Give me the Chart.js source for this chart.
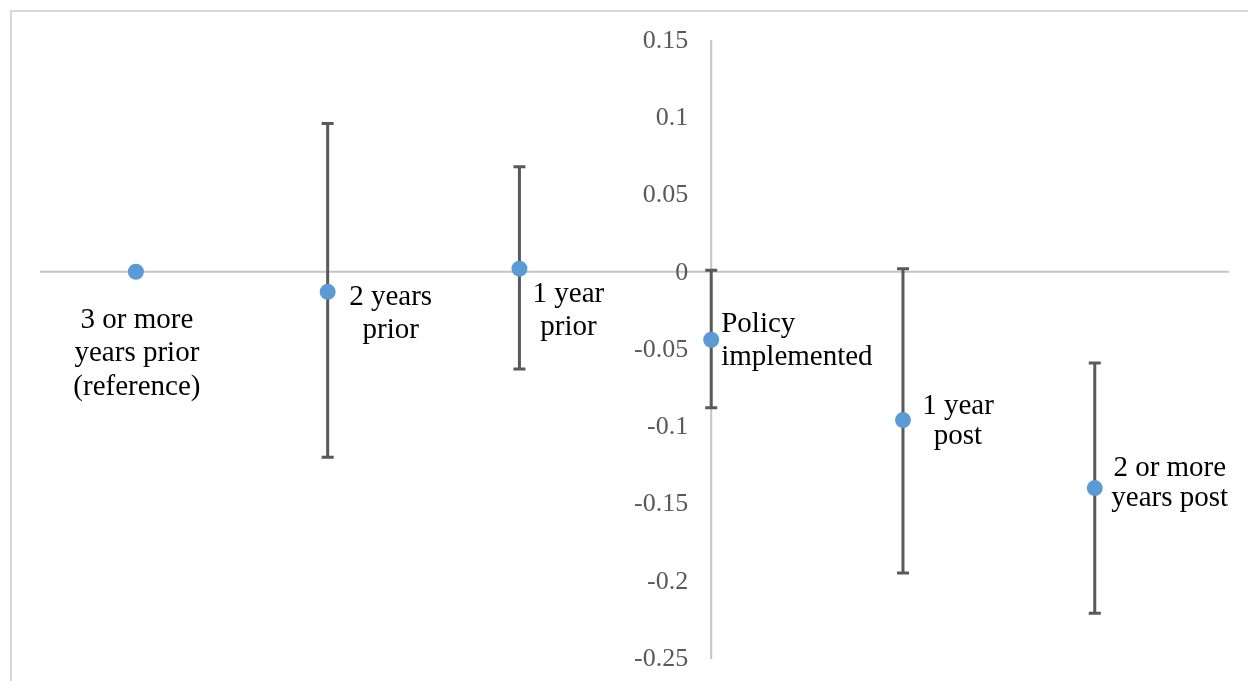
<!DOCTYPE html>
<html>
<head>
<meta charset="utf-8">
<script src="https://cdn.jsdelivr.net/npm/chart.js@4/dist/chart.umd.min.js"></script>
<style>
  html, body { margin: 0; padding: 0; background: #fff; overflow: hidden; }
  #wrap { position: relative; width: 1248px; height: 681px; }
</style>
</head>
<body>
<div id="wrap"><canvas id="chart"></canvas></div>
<script>
// data
const categories = [
    ['3 or more', 'years prior', '(reference)'],
    ['2 years', 'prior'],
    ['1 year', 'prior'],
    ['Policy', 'implemented'],
    ['1 year', 'post'],
    ['2 or more', 'years post']
];
const periods = [-3, -2, -1, 0, 1, 2];
const estimates = [0, -0.013, 0.002, -0.044, -0.096, -0.140];
const lowerCI = [null, -0.120, -0.063, -0.088, -0.195, -0.221];
const upperCI = [null, 0.096, 0.068, 0.001, 0.002, -0.059];
const yTicks = [0.15, 0.1, 0.05, 0, -0.05, -0.1, -0.15, -0.2, -0.25];

// where each label sits relative to its point
const labelLayout = [
    { align: 'center', dx: 1, dy: 56, lh: 33.5 },
    { align: 'center', dx: 63, dy: 13, lh: 33 },
    { align: 'center', dx: 49, dy: 33, lh: 33 },
    { align: 'left', dx: 10, dy: -8, lh: 33 },
    { align: 'center', dx: 55, dy: -6, lh: 30 },
    { align: 'center', dx: 75, dy: -12, lh: 30 }
];

const serif = '"Liberation Serif", "Times New Roman", serif';

const frame = {
    id: 'frame',
    beforeDraw(chart) {
        const ctx = chart.ctx;
        ctx.save();
        ctx.strokeStyle = '#d9d9d9';
        ctx.lineWidth = 2;
        ctx.beginPath();
        ctx.moveTo(11, chart.height);
        ctx.lineTo(11, 11);
        ctx.lineTo(chart.width, 11);
        ctx.stroke();
        ctx.restore();
    }
};

const axesAndBars = {
    id: 'axesAndBars',
    beforeDatasetsDraw(chart) {
        const ctx = chart.ctx;
        const xs = chart.scales.x, ys = chart.scales.y;
        const area = chart.chartArea;
        const x0 = xs.getPixelForValue(0), y0 = ys.getPixelForValue(0);
        ctx.save();
        ctx.strokeStyle = '#c4c4c4';
        ctx.lineWidth = 2;
        ctx.beginPath();
        ctx.moveTo(area.left, y0);
        ctx.lineTo(area.right, y0);
        ctx.moveTo(x0, ys.getPixelForValue(yTicks[0]));
        ctx.lineTo(x0, ys.getPixelForValue(yTicks[yTicks.length - 1]) + 1);
        ctx.stroke();

        ctx.fillStyle = '#595959';
        ctx.font = '26px ' + serif;
        ctx.textAlign = 'right';
        ctx.textBaseline = 'middle';
        yTicks.forEach(v => ctx.fillText(String(v), x0 - 23, ys.getPixelForValue(v) + 1));

        ctx.strokeStyle = '#595959';
        ctx.lineWidth = 3;
        periods.forEach((p, i) => {
            if(lowerCI[i] === null) return;
            const px = xs.getPixelForValue(p);
            const top = ys.getPixelForValue(upperCI[i]);
            const bot = ys.getPixelForValue(lowerCI[i]);
            ctx.beginPath();
            ctx.moveTo(px, top);
            ctx.lineTo(px, bot);
            ctx.moveTo(px - 6, top);
            ctx.lineTo(px + 6, top);
            ctx.moveTo(px - 6, bot);
            ctx.lineTo(px + 6, bot);
            ctx.stroke();
        });
        ctx.restore();
    }
};

const pointLabels = {
    id: 'pointLabels',
    afterDatasetsDraw(chart) {
        const ctx = chart.ctx;
        const xs = chart.scales.x, ys = chart.scales.y;
        ctx.save();
        ctx.fillStyle = '#000';
        ctx.font = '29px ' + serif;
        ctx.textBaseline = 'alphabetic';
        categories.forEach((lines, i) => {
            const lay = labelLayout[i];
            const px = xs.getPixelForValue(periods[i]);
            const py = ys.getPixelForValue(estimates[i]);
            ctx.textAlign = lay.align;
            lines.forEach((t, k) => ctx.fillText(t, px + lay.dx, py + lay.dy + k * lay.lh));
        });
        ctx.restore();
    }
};

new Chart(document.getElementById('chart'), {
    type: 'scatter',
    data: {
        datasets: [{
            data: periods.map((p, i) => ({ x: p, y: estimates[i] })),
            backgroundColor: '#5b9bd5',
            borderWidth: 0,
            pointRadius: 8,
            pointHoverRadius: 8
        }]
    },
    options: {
        responsive: true,
        maintainAspectRatio: false,
        animation: false,
        events: [],
        layout: { padding: { left: 40, right: 19, top: 40, bottom: 23 } },
        plugins: { legend: { display: false }, tooltip: { enabled: false } },
        scales: {
            x: { type: 'linear', min: -3.5, max: 2.7, display: false },
            y: { type: 'linear', min: -0.25, max: 0.15, display: false }
        }
    },
    plugins: [frame, axesAndBars, pointLabels]
});
</script>
</body>
</html>
